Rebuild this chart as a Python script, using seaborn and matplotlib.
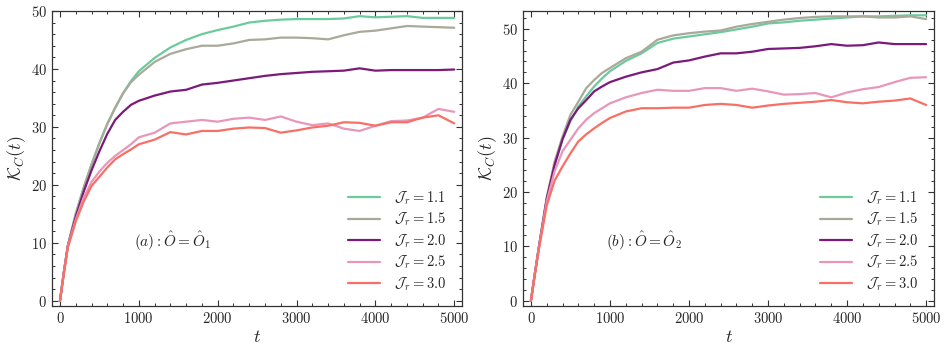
import pandas as pd
import matplotlib
matplotlib.use("Agg")
import matplotlib.pyplot as plt
import seaborn as sns
from matplotlib.ticker import MultipleLocator

# Style
sns.set_theme(style="ticks")
plt.rcParams["font.family"] = "serif"
plt.rcParams["font.serif"] = ["cmr10", "DejaVu Serif"]
plt.rcParams["mathtext.fontset"] = "cm"
plt.rcParams["axes.formatter.use_mathtext"] = True

# ------------------------------------
# Data
# ------------------------------------

t = [0, 50, 100, 200, 300, 400, 500, 600, 700, 800, 900, 1000,
     1200, 1400, 1600, 1800, 2000, 2200, 2400, 2600, 2800, 3000,
     3200, 3400, 3600, 3800, 4000, 4200, 4400, 4600, 4800, 5000]

labels = [r"$\mathcal{J}_r = 1.1$", r"$\mathcal{J}_r = 1.5$", r"$\mathcal{J}_r = 2.0$",
          r"$\mathcal{J}_r = 2.5$", r"$\mathcal{J}_r = 3.0$"]
colors = ["#6ccb9c", "#a9a99a", "#7b1a7b", "#e897b9", "#f86f66"]

# panel (a)
a_11 = [0, 5.0, 9.5, 15.0, 19.5, 23.5, 27.2, 30.5, 33.3, 35.8, 37.9, 39.6,
        41.9, 43.7, 45.0, 46.0, 46.7, 47.3, 48.0, 48.3, 48.5, 48.6,
        48.6, 48.6, 48.7, 49.1, 48.9, 49.0, 49.1, 48.8, 48.8, 48.8]
a_15 = [0, 5.0, 9.5, 15.0, 19.5, 23.5, 27.2, 30.5, 33.3, 35.8, 37.7, 39.0,
        41.2, 42.6, 43.4, 44.0, 44.0, 44.4, 45.0, 45.1, 45.4, 45.4,
        45.3, 45.1, 45.8, 46.4, 46.6, 47.0, 47.4, 47.3, 47.2, 47.1]
a_20 = [0, 5.0, 9.5, 14.5, 18.8, 22.5, 25.8, 28.8, 31.2, 32.6, 33.8, 34.5,
        35.4, 36.1, 36.4, 37.3, 37.6, 38.0, 38.4, 38.8, 39.1, 39.3,
        39.5, 39.6, 39.7, 40.1, 39.7, 39.8, 39.8, 39.8, 39.8, 39.9]
a_25 = [0, 5.0, 9.5, 14.0, 17.8, 20.5, 22.3, 23.8, 25.0, 26.0, 27.0, 28.2,
        29.0, 30.6, 30.9, 31.2, 30.9, 31.4, 31.6, 31.2, 31.8, 30.9,
        30.3, 30.6, 29.7, 29.3, 30.2, 31.0, 31.1, 31.6, 33.1, 32.6]
a_30 = [0, 4.8, 9.2, 13.7, 17.1, 19.8, 21.4, 23.0, 24.4, 25.3, 26.1, 27.0,
        27.8, 29.1, 28.7, 29.3, 29.3, 29.7, 29.9, 29.8, 29.0, 29.4,
        29.9, 30.2, 30.8, 30.7, 30.2, 30.8, 30.8, 31.6, 32.0, 30.6]

# panel (b)
b_11 = [0, 5.0, 9.8, 18.6, 25.0, 29.7, 33.0, 35.7, 37.6, 39.4, 40.9, 42.2,
        44.1, 45.5, 47.4, 48.2, 48.6, 49.0, 49.4, 49.9, 50.4, 51.0,
        51.2, 51.5, 51.7, 51.9, 52.1, 52.3, 52.3, 52.4, 52.5, 52.5]
b_15 = [0, 5.0, 9.8, 19.0, 25.6, 30.2, 34.2, 36.6, 39.1, 40.6, 41.9, 42.8,
        44.6, 45.8, 48.0, 48.8, 49.2, 49.5, 49.7, 50.4, 50.9, 51.3,
        51.7, 52.0, 52.2, 52.3, 52.3, 52.3, 52.1, 52.1, 52.3, 51.8]
b_20 = [0, 5.0, 9.8, 18.8, 25.0, 29.7, 33.3, 35.4, 36.9, 38.5, 39.4, 40.2,
        41.2, 42.0, 42.6, 43.8, 44.2, 44.9, 45.5, 45.5, 45.8, 46.3,
        46.4, 46.5, 46.8, 47.2, 46.9, 47.0, 47.5, 47.2, 47.2, 47.2]
b_25 = [0, 5.0, 9.7, 18.3, 23.8, 27.5, 29.6, 31.7, 33.3, 34.5, 35.4, 36.3,
        37.4, 38.2, 38.8, 38.6, 38.6, 39.1, 39.1, 38.6, 39.0, 38.5,
        37.9, 38.0, 38.2, 37.4, 38.3, 38.9, 39.3, 40.2, 41.0, 41.1]
b_30 = [0, 4.8, 9.4, 17.5, 22.1, 24.7, 27.1, 29.3, 30.6, 31.7, 32.7, 33.6,
        34.8, 35.4, 35.4, 35.5, 35.5, 36.0, 36.2, 36.0, 35.5, 35.9,
        36.2, 36.4, 36.6, 36.9, 36.5, 36.3, 36.6, 36.8, 37.2, 36.0]

panels = [
    ([a_11, a_15, a_20, a_25, a_30], r"$(a): \hat{O} = \hat{O}_1$", (-0.9, 50)),
    ([b_11, b_15, b_20, b_25, b_30], r"$(b): \hat{O} = \hat{O}_2$", (-1.0, 53.3)),
]

# ------------------------------------
# Figure
# ------------------------------------

fig = plt.figure(figsize=(9.47, 3.53), dpi=100)
axes = [fig.add_axes([0.055, 0.133, 0.433, 0.836]),
        fig.add_axes([0.5523, 0.133, 0.434, 0.836])]

for ax, (series, note, ylim) in zip(axes, panels):
    rows = []
    for lab, vals in zip(labels, series):
        for ti, v in zip(t, vals):
            rows.append({"t": ti, "K": v, "J": lab})
    df = pd.DataFrame(rows)

    sns.lineplot(data=df, x="t", y="K", hue="J", palette=colors,
                 linewidth=1.6, ax=ax)

    ax.set_xlim(-100, 5100)
    ax.set_ylim(*ylim)
    ax.xaxis.set_major_locator(MultipleLocator(1000))
    ax.xaxis.set_minor_locator(MultipleLocator(200))
    ax.yaxis.set_major_locator(MultipleLocator(10))
    ax.yaxis.set_minor_locator(MultipleLocator(2))
    ax.tick_params(which="both", direction="in", top=True, right=True,
                   labelsize=10.5, color="#333333")
    ax.tick_params(which="major", length=4, width=0.8)
    ax.tick_params(which="minor", length=2, width=0.7)
    for s in ax.spines.values():
        s.set_linewidth(0.9)
        s.set_color("#333333")

    ax.set_xlabel(r"$t$", fontsize=13, labelpad=2)
    ax.set_ylabel(r"$\mathcal{K}_C(t)$", fontsize=13, labelpad=2)
    ax.text(0.295, 0.22, note, transform=ax.transAxes, ha="center",
            va="center", fontsize=11)

    ax.legend(loc="lower right", frameon=False, fontsize=10.5,
              handlelength=2.2, handletextpad=1.0, labelspacing=0.28,
              borderaxespad=0.5, bbox_to_anchor=(0.995, 0.0))

fig.savefig("out.png", dpi=100)
